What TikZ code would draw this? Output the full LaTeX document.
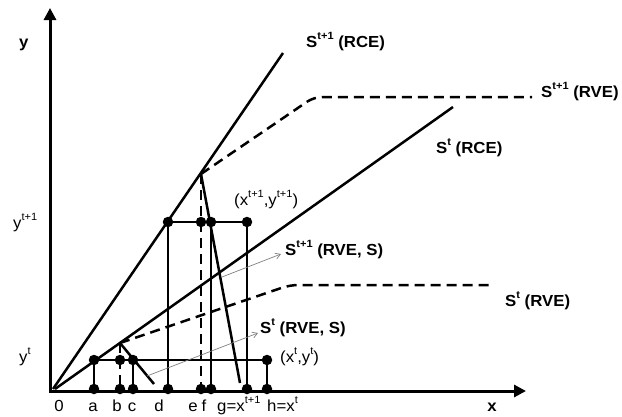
\documentclass[tikz,border=0pt]{standalone}
\usepackage{fontspec}
\setmainfont{Liberation Sans}[FakeStretch=1.05]
\usetikzlibrary{arrows.meta}
\newcommand\supt[1]{\raisebox{7.5pt}{\fontsize{10.5}{10.5}\selectfont #1}}
\begin{document}
\begin{tikzpicture}[x=1pt,y=-1pt,
  lbl/.style={inner sep=0pt, anchor=base west, font=\fontsize{16}{18}\selectfont},
  blbl/.style={lbl, font=\fontsize{16}{18}\selectfont\bfseries},
  tick/.style={inner sep=0pt, anchor=base, font=\fontsize{16}{18}\selectfont},
  dot/.style={circle, fill=black, inner sep=0pt, minimum size=10.5pt},
  thinline/.style={line width=1.3pt},
  thickline/.style={line width=2.5pt},
  dashline/.style={line width=2.5pt, dash pattern=on 10pt off 6pt},
  axisline/.style={line width=3pt, {Triangle[length=12pt,width=12pt]}-{Triangle[length=12pt,width=12pt]}},
  pointer/.style={gray, line width=0.7pt, -{Straight Barb[length=5pt,width=6pt]}}
]
\useasboundingbox (0,0) rectangle (622,416);

% axes
\coordinate (O) at (50,391);
\coordinate (ytop) at (50,8);
\coordinate (xend) at (526,391);
\draw[axisline, line join=miter] (ytop) -- (O) -- (xend);

% kinks and line ends
\coordinate (K1) at (120,343);
\coordinate (K2) at (201,174);
\coordinate (o1) at (53,389);
\coordinate (o2) at (55,389);
\coordinate (rce1end) at (283,53);
\coordinate (rce0end) at (453,107);
\coordinate (rve1c) at (314,97);
\coordinate (rve1end) at (532,97);
\coordinate (rve0c) at (290,285);
\coordinate (rve0end) at (490,285);
\coordinate (s1end) at (240,383);
\coordinate (s0end) at (154,384);

% dots
\node[dot] (atop) at (94,360) {};
\node[dot] (btop) at (120,360) {};
\node[dot] (ctop) at (133,360) {};
\node[dot] (htop) at (267,360) {};
\node[dot] (dtop) at (168,222) {};
\node[dot] (etop) at (201,222) {};
\node[dot] (ftop) at (211,222) {};
\node[dot] (gtop) at (247,222) {};
\node[dot] (abot) at (94,389) {};
\node[dot] (bbot) at (120,389) {};
\node[dot] (cbot) at (133,389) {};
\node[dot] (dbot) at (168,389) {};
\node[dot] (ebot) at (201,389) {};
\node[dot] (fbot) at (211,389) {};
\node[dot] (gbot) at (247,389) {};
\node[dot] (hbot) at (267,389) {};

% thin rectangles
\draw[thinline] (atop.center) -- (htop.center);
\draw[thinline] (dtop.center) -- (gtop.center);
\draw[thinline] (atop) -- (abot);
\draw[thinline] (ctop) -- (cbot);
\draw[thinline] (htop) -- (hbot);
\draw[thinline] (dtop) -- (dbot);
\draw[thinline] (ftop) -- (fbot);
\draw[thinline] (gtop) -- (gbot);

% RCE lines
\draw[thickline] (o1) -- (rce1end);
\draw[thickline] (o2) -- (rce0end);

% RVE dashed lines
\draw[dashline, rounded corners=8pt] (K2) -- (rve1c) -- (rve1end);
\draw[dashline, rounded corners=8pt] (K1) -- (rve0c) -- (rve0end);

% dashed verticals
\draw[dashline] (K1) -- (bbot.center);
\draw[dashline] (K2) -- (ebot.center);

% RVE,S slanted lines
\draw[thickline] (K2) -- (s1end);
\draw[thickline] (K1) -- (s0end);

% pointers
\coordinate (p1s) at (222,277);
\coordinate (p1e) at (281,254);
\coordinate (p0s) at (147,376);
\coordinate (p0e) at (258,333);
\draw[pointer] (p1s) -- (p1e);
\draw[pointer] (p0s) -- (p0e);

% labels
\node[blbl] (ylab) at (19,47) {y};
\node[blbl] (lRCE1) at (306,47) {S\supt{t+1} (RCE)};
\node[blbl] (lRVE1) at (541,97) {S\supt{t+1} (RVE)};
\node[blbl] (lRCE0) at (436,153) {S\supt{t} (RCE)};
\node[lbl] (lpt1) at (234,205) {(x\supt{t+1},y\supt{t+1})};
\node[lbl] (lyt1) at (13,228) {y\supt{t+1}};
\node[blbl] (lRVES1) at (285,255) {S\supt{t+1} (RVE, S)};
\node[blbl] (lRVE0) at (505,306) {S\supt{t} (RVE)};
\node[blbl] (lRVES0) at (260,333) {S\supt{t} (RVE, S)};
\node[lbl] (lpt0) at (280,362) {(x\supt{t},y\supt{t})};
\node[lbl] (lyt0) at (19,362) {y\supt{t}};

\node[tick] (t0) at (59,411) {0};
\node[tick] (ta) at (93,411) {a};
\node[tick] (tb) at (117,411) {b};
\node[tick] (tc) at (132,411) {c};
\node[tick] (td) at (159,411) {d};
\node[tick] (te) at (193,411) {e};
\node[tick] (tf) at (204,411) {f};
\node[lbl] (tg) at (217,411) {g=x\supt{t+1}};
\node[lbl] (th) at (267,411) {h=x\supt{t}};
\node[tick, font=\fontsize{16}{18}\selectfont\bfseries] (xlab) at (492,411) {x};
\end{tikzpicture}
\end{document}
